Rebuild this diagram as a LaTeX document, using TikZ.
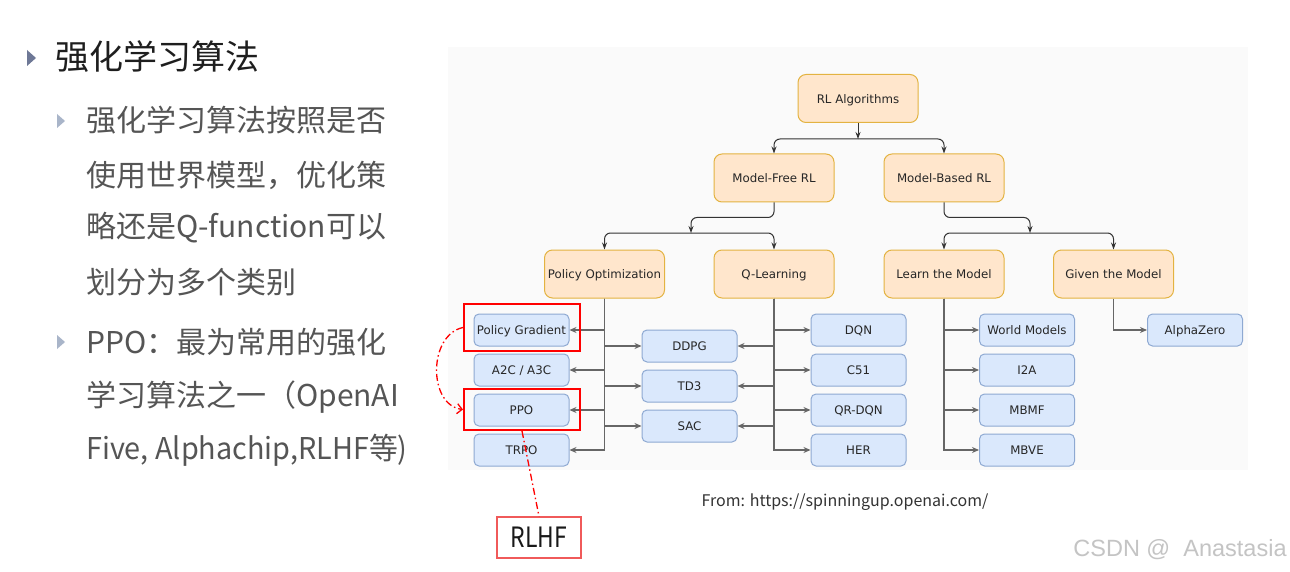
\documentclass[tikz,border=0pt]{standalone}
\usepackage{fontspec}
\newfontfamily\cjk{Noto Sans CJK SC}
\newfontfamily\dv{DejaVu Sans}
\newfontfamily\lib{Liberation Sans}
\usetikzlibrary{arrows.meta}
\definecolor{obfill}{HTML}{FFE6CC}
\definecolor{obdraw}{HTML}{E3B341}
\definecolor{bbfill}{HTML}{DAE8FC}
\definecolor{bbdraw}{HTML}{8EA9D2}
\definecolor{tline}{HTML}{333333}
\definecolor{gline}{HTML}{666666}
\definecolor{bgpanel}{HTML}{FAFAFA}
\definecolor{redc}{HTML}{FF0000}
\definecolor{rlhfred}{HTML}{F05A5A}
\definecolor{bdark}{HTML}{6E7896}
\definecolor{blight}{HTML}{A9B5C9}
\definecolor{titlec}{HTML}{1E1E1E}
\definecolor{subc}{HTML}{555555}
\definecolor{wmc}{HTML}{C4C4C4}
\begin{document}
\begin{tikzpicture}[x=1pt,y=-1pt,
  obox/.style={draw=obdraw, fill=obfill, line width=1pt, rounded corners=8pt, minimum width=120pt, minimum height=48pt, inner sep=0pt, text height=10pt, text depth=0.5pt, font=\dv\fontsize{11.8}{13}\selectfont, text=black!85},
  bbox/.style={draw=bbdraw, fill=bbfill, line width=1pt, rounded corners=5pt, minimum width=95pt, minimum height=32pt, inner sep=0pt, text height=10pt, text depth=0.5pt, font=\dv\fontsize{11.8}{13}\selectfont, text=black!85},
  tarr/.style={draw=tline, line width=1pt, -{Stealth[length=7pt,width=5pt]}},
  garr/.style={draw=gline, line width=1.4pt, -{Stealth[length=7pt,width=6pt]}},
  redbox/.style={draw=redc, line width=2pt, inner sep=0pt},
  reddash/.style={draw=redc, line width=1.3pt, dash pattern=on 7pt off 3pt on 1.5pt off 3pt},
  subtxt/.style={anchor=west, inner sep=0pt, text=subc, font=\cjk\fontsize{30}{32}\selectfont},
]
\useasboundingbox (0,0) rectangle (1290,572);
\fill[white] (0,0) rectangle (1290,572);
\fill[bgpanel] (448,47) rectangle (1248,470);

% left text
\fill[bdark] (27,50) -- (27,66) -- (36,58) -- cycle;
\node[anchor=west, inner sep=0pt, text=titlec, font=\cjk\fontsize{34}{36}\selectfont] (title) at (55,57) {强化学习算法};
\fill[blight] (57,114) -- (57,128) -- (65,121) -- cycle;
\fill[blight] (57,335) -- (57,349) -- (65,342) -- cycle;
\node[subtxt] (l1) at (86,120) {强化学习算法按照是否};
\node[subtxt] (l2) at (86,175) {使用世界模型，优化策};
\node[subtxt] (l3) at (86,228) {略还是Q-function可以};
\node[subtxt] (l4) at (86,282) {划分为多个类别};
\node[subtxt] (l5) at (86,342) {PPO：最为常用的强化};
\node[subtxt] (l6) at (86,397) {学习算法之一（OpenAI};
\node[subtxt] (l7) at (86,450) {\scalebox{0.96}[1]{Five, Alphachip,RLHF等)}};

% upper nodes
\node[obox] (rl) at (858,98.5) {RL Algorithms};
\node[obox] (mf) at (774,178) {Model-Free RL};
\node[obox] (mb) at (944,178) {Model-Based RL};
\node[obox] (po) at (604.5,274) {Policy Optimization};
\node[obox] (ql) at (774,274) {Q-Learning};
\node[obox] (lm) at (944,274) {Learn the Model};
\node[obox] (gm) at (1113.5,274) {Given the Model};

% leaves
\node[bbox] (pg) at (521.5,330) {Policy Gradient};
\node[bbox] (a2c) at (521.5,370) {A2C / A3C};
\node[bbox] (ppo) at (521.5,410) {PPO};
\node[bbox] (trpo) at (521.5,450) {TRPO};
\node[bbox] (ddpg) at (689.5,346) {DDPG};
\node[bbox] (td3) at (689.5,386) {TD3};
\node[bbox] (sac) at (689.5,426) {SAC};
\node[bbox] (dqn) at (858.5,330) {DQN};
\node[bbox] (c51) at (858.5,370) {C51};
\node[bbox] (qrdqn) at (858.5,410) {QR-DQN};
\node[bbox] (her) at (858.5,450) {HER};
\node[bbox] (wm) at (1027,330) {World Models};
\node[bbox] (i2a) at (1027,370) {I2A};
\node[bbox] (mbmf) at (1027,410) {MBMF};
\node[bbox] (mbve) at (1027,450) {MBVE};
\node[bbox] (az) at (1195,330) {AlphaZero};

% top connectors
\coordinate (j1) at (858,139);
\coordinate (j2) at (691,233);
\coordinate (j3) at (1030,233);
\draw[tarr] (rl.south) -- (j1);
\draw[tarr, rounded corners=6pt] (j1) -| (mf.north);
\draw[tarr, rounded corners=6pt] (j1) -| (mb.north);
\draw[tarr, rounded corners=6pt] (mf.south) -- ++(0,15) -| (j2);
\draw[tarr, rounded corners=6pt] (mb.south) -- ++(0,15) -| (j3);
\draw[tarr, rounded corners=6pt] (j2) -| (po.north);
\draw[tarr, rounded corners=6pt] (j2) -| (ql.north);
\draw[tarr, rounded corners=6pt] (j3) -| (lm.north);
\draw[tarr, rounded corners=6pt] (j3) -| (gm.north);

% lower connectors
\foreach \t in {pg,a2c,ppo,trpo} \draw[garr] (po.south) |- (\t.east);
\foreach \t in {ddpg,td3,sac} \draw[garr] (po.south) |- (\t.west);
\foreach \t in {dqn,c51,qrdqn,her} \draw[garr] (ql.south) |- (\t.west);
\foreach \t in {ddpg,td3,sac} \draw[garr] (ql.south) |- (\t.east);
\foreach \t in {wm,i2a,mbmf,mbve} \draw[garr] (lm.south) |- (\t.west);
\draw[garr] (gm.south) |- (az.west);

% red annotations
\node[redbox, minimum width=116pt, minimum height=47pt] (rpg) at (522,327.5) {};
\node[redbox, minimum width=116pt, minimum height=41pt] (rppo) at (522,409.5) {};
\node[draw=rlhfred, line width=1.3pt, minimum width=84pt, minimum height=41pt, inner sep=0pt, text=black!90, font=\cjk\fontsize{28}{30}\selectfont] (rlhf) at (539,537.5) {\scalebox{0.82}[1]{RLHF}};
\draw[reddash, -{Straight Barb[length=5pt,width=10pt]}] (rpg.west) .. controls (428,335) and (428,405) .. (rppo.west);
\draw[reddash] (rppo.south) -- (rlhf.north);

% captions
\node[inner sep=0pt, text=black!80, font=\cjk\fontsize{16}{18}\selectfont] (src) at (845,502) {From: https://spinningup.openai.com/};
\node[inner sep=0pt, text=wmc, font=\lib\fontsize{23.5}{26}\selectfont] (wmark) at (1180,550) {CSDN @ \ Anastasia};
\end{tikzpicture}
\end{document}
